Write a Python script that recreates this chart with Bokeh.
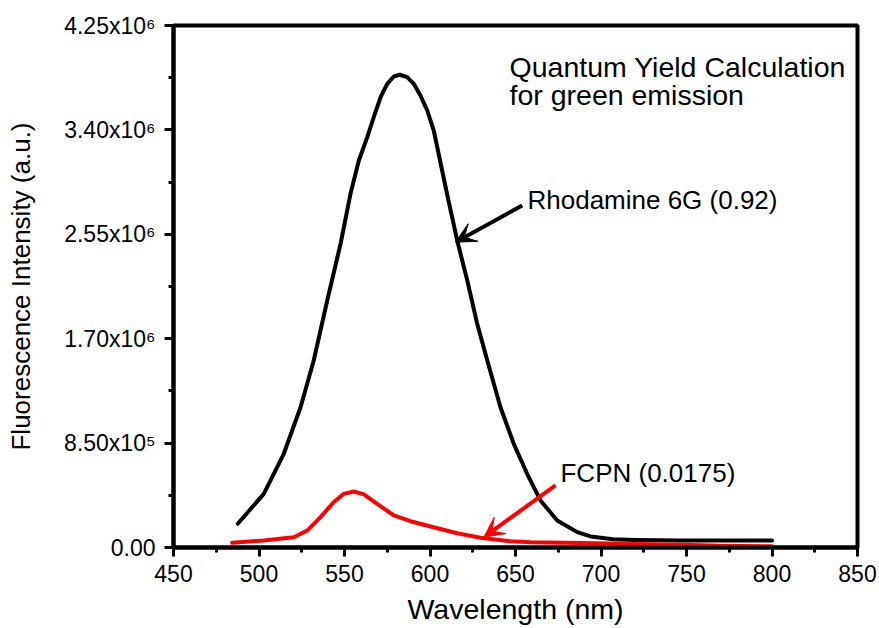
from bokeh.plotting import figure
from bokeh.models import (Range1d, FixedTicker, CustomJSTickFormatter, Arrow,
                          VeeHead, Label)
from bokeh.embed import file_html
from bokeh.resources import INLINE

# ---- data ----
wavelength_rh = [487.6, 502.8, 514.5, 524.3, 532.0, 539.9, 547.7, 553.5, 558.4,
                 563.3, 567.1, 571.1, 575.0, 578.8, 582.3, 586.7, 590.5, 594.4,
                 598.4, 602.2, 610.1, 615.9, 621.8, 627.6, 633.5, 641.2, 649.0,
                 656.8, 664.6, 674.4, 686.1, 693.9, 707.0, 720.0, 746.5, 770.0,
                 800.0]
intensity_rh = [193e3, 437e3, 763e3, 1.142e6, 1.522e6, 2.011e6, 2.473e6, 2.880e6,
                3.151e6, 3.341e6, 3.503e6, 3.666e6, 3.775e6, 3.835e6, 3.849e6,
                3.829e6, 3.775e6, 3.680e6, 3.558e6, 3.395e6, 2.870e6, 2.500e6,
                2.174e6, 1.821e6, 1.522e6, 1.142e6, 844e3, 600e3, 383e3, 220e3,
                125e3, 90e3, 68e3, 62e3, 57e3, 57e3, 57e3]

wavelength_fc = [484.3, 502.8, 520.4, 528.2, 536.0, 543.7, 549.6, 555.4, 561.3,
                 569.1, 578.8, 588.6, 600.3, 615.9, 629.5, 647.1, 658.8, 688.0,
                 720.0, 746.5, 770.0, 800.0]
intensity_fc = [38e3, 57e3, 84e3, 138e3, 247e3, 369e3, 437e3, 456e3, 432e3,
                356e3, 261e3, 214e3, 171e3, 116e3, 79e3, 51e3, 43e3, 36e3,
                28e3, 22e3, 15e3, 10e3]

x_ticks = [450, 500, 550, 600, 650, 700, 750, 800, 850]
y_ticks = [0, 850000, 1700000, 2550000, 3400000, 4250000]
y_tick_labels = ["0.00", "8.50x10\u2075", "1.70x10\u2076", "2.55x10\u2076",
                 "3.40x10\u2076", "4.25x10\u2076"]

label_rh = "Rhodamine 6G (0.92)"
label_fc = "FCPN (0.0175)"
title_lines = ["Quantum Yield Calculation", "for green emission"]

FONT = "Liberation Sans"

p = figure(width=879, height=628, output_backend="svg", toolbar_location=None,
           x_range=Range1d(450, 850), y_range=Range1d(0, 4.25e6),
           min_border_left=173, min_border_right=22, min_border_top=25,
           min_border_bottom=81)

p.grid.visible = False
p.outline_line_color = "black"
p.outline_line_width = 4
p.outline_line_alpha = 1.0

for ax in (p.xaxis[0], p.yaxis[0]):
    ax.axis_line_width = 4
    ax.axis_line_color = "black"
    ax.major_tick_line_width = 3
    ax.minor_tick_line_width = 3
    ax.major_tick_out = 9
    ax.major_tick_in = 0
    ax.minor_tick_out = 5
    ax.minor_tick_in = 0
    ax.major_label_text_font = FONT
    ax.major_label_text_font_size = "23px"
    ax.major_label_text_color = "black"
    ax.axis_label_text_font = FONT
    ax.axis_label_text_font_style = "normal"
    ax.axis_label_text_color = "black"

p.xaxis.axis_label_text_font_size = "28.5px"
p.yaxis.axis_label_text_font_size = "26px"

p.xaxis.ticker = FixedTicker(ticks=x_ticks,
                             minor_ticks=[t + 25 for t in x_ticks[:-1]])
p.yaxis.ticker = FixedTicker(ticks=y_ticks,
                             minor_ticks=[t + 425000 for t in y_ticks[:-1]])
p.yaxis.formatter = CustomJSTickFormatter(
    args=dict(tvals=y_ticks, tlabels=y_tick_labels),
    code="""
    for (let i = 0; i < tvals.length; i++) {
        if (Math.abs(tvals[i] - tick) < 1) { return tlabels[i]; }
    }
    return '';
    """)
p.xaxis.axis_label = "Wavelength (nm)"
p.yaxis.axis_label = "Fluorescence Intensity (a.u.)"
p.xaxis.major_label_standoff = 8
p.yaxis.major_label_standoff = 9
p.xaxis.axis_label_standoff = 8
p.yaxis.axis_label_standoff = 25

p.line(wavelength_rh, intensity_rh, line_color="black", line_width=4,
       line_join="round", line_cap="round")
p.line(wavelength_fc, intensity_fc, line_color="#ff0000", line_width=4,
       line_join="round", line_cap="round")

p.add_layout(Arrow(end=VeeHead(size=20, fill_color="black", line_color="black"),
                   x_start=653.9, y_start=2.784e6, x_end=614.9, y_end=2.486e6,
                   line_color="black", line_width=4))
p.add_layout(Arrow(end=VeeHead(size=20, fill_color="#ff0000", line_color="#ff0000"),
                   x_start=673.4, y_start=505e3, x_end=631.5, y_end=84e3,
                   line_color="#ff0000", line_width=4))

p.add_layout(Label(x=657.0, y=2.831e6, text=label_rh, text_font=FONT,
                   text_font_size="26px", text_color="black",
                   text_baseline="alphabetic"))
p.add_layout(Label(x=676.3, y=605e3, text=label_fc, text_font=FONT,
                   text_font_size="26px", text_color="black",
                   text_baseline="alphabetic"))
p.add_layout(Label(x=646.5, y=3.916e6, text=title_lines[0], text_font=FONT,
                   text_font_size="28.5px", text_color="black",
                   text_baseline="alphabetic"))
p.add_layout(Label(x=646.5, y=3.688e6, text=title_lines[1], text_font=FONT,
                   text_font_size="28.5px", text_color="black",
                   text_baseline="alphabetic"))

open("out.html", "w").write(file_html(p, INLINE))
